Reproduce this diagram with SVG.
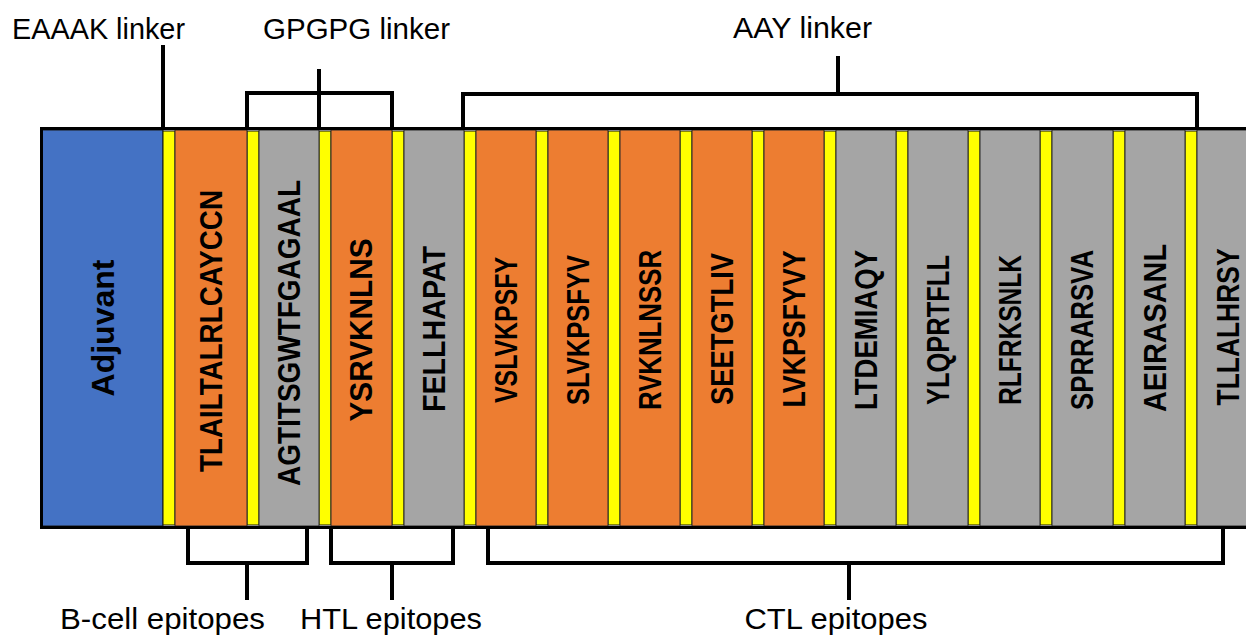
<svg xmlns="http://www.w3.org/2000/svg" width="1246" height="635" viewBox="0 0 1246 635">
<style>
.adj{fill:#4472C4;stroke:#1a1a1a;stroke-width:1}
.htl{fill:#ED7D31;stroke:#2a2a2a;stroke-width:1}
.gry{fill:#A5A5A5;stroke:#2a2a2a;stroke-width:1}
.lnk{fill:#FFFF00;stroke:#111;stroke-width:1}
.seq{font-family:"Liberation Sans",Arial,sans-serif;font-weight:bold;font-size:31px;fill:#000;text-anchor:middle}
.lbl{font-family:"Liberation Sans",Arial,sans-serif;font-size:29px;fill:#000;text-anchor:middle}
.br{fill:none;stroke:#000;stroke-width:4;stroke-linejoin:miter;stroke-linecap:butt}
.frame{fill:none;stroke:#000;stroke-width:3}
</style>
<rect x="0" y="0" width="1246" height="635" fill="#fff"/>

<g id="adjuvant">
<rect class="adj" x="42" y="130" width="121" height="396"/>
<text class="seq" transform="translate(103,328) rotate(-90)" dy="0.36em" textLength="137" lengthAdjust="spacingAndGlyphs">Adjuvant</text>
</g>

<g id="linkers">
<rect class="lnk" x="163" y="131" width="12" height="394"/>
<rect class="lnk" x="247" y="131" width="12" height="394"/>
<rect class="lnk" x="319" y="131" width="12" height="394"/>
<rect class="lnk" x="392" y="131" width="12" height="394"/>
<rect class="lnk" x="464" y="131" width="12" height="394"/>
<rect class="lnk" x="536" y="131" width="12" height="394"/>
<rect class="lnk" x="608" y="131" width="12" height="394"/>
<rect class="lnk" x="680" y="131" width="12" height="394"/>
<rect class="lnk" x="752" y="131" width="12" height="394"/>
<rect class="lnk" x="824" y="131" width="12" height="394"/>
<rect class="lnk" x="896" y="131" width="12" height="394"/>
<rect class="lnk" x="968" y="131" width="12" height="394"/>
<rect class="lnk" x="1040" y="131" width="12" height="394"/>
<rect class="lnk" x="1113" y="131" width="12" height="394"/>
<rect class="lnk" x="1185" y="131" width="12" height="394"/>
</g>

<g id="e1">
<rect class="htl" x="175" y="130" width="72" height="396"/>
<text class="seq" transform="translate(211,331) rotate(-90)" dy="0.36em" textLength="282" lengthAdjust="spacingAndGlyphs">TLAILTALRLCAYCCN</text>
</g>
<g id="e2">
<rect class="gry" x="259" y="130" width="60" height="396"/>
<text class="seq" transform="translate(289,333) rotate(-90)" dy="0.36em" textLength="306" lengthAdjust="spacingAndGlyphs">AGTITSGWTFGAGAAL</text>
</g>
<g id="e3">
<rect class="htl" x="331" y="130" width="61" height="396"/>
<text class="seq" transform="translate(361,330) rotate(-90)" dy="0.36em" textLength="183" lengthAdjust="spacingAndGlyphs">YSRVKNLNS</text>
</g>
<g id="e4">
<rect class="gry" x="404" y="130" width="60" height="396"/>
<text class="seq" transform="translate(434,329) rotate(-90)" dy="0.36em" textLength="166" lengthAdjust="spacingAndGlyphs">FELLHAPAT</text>
</g>
<g id="e5">
<rect class="htl" x="476" y="130" width="60" height="396"/>
<text class="seq" transform="translate(506,330) rotate(-90)" dy="0.36em" textLength="146" lengthAdjust="spacingAndGlyphs">VSLVKPSFY</text>
</g>
<g id="e6">
<rect class="htl" x="548" y="130" width="60" height="396"/>
<text class="seq" transform="translate(578,330) rotate(-90)" dy="0.36em" textLength="150" lengthAdjust="spacingAndGlyphs">SLVKPSFYV</text>
</g>
<g id="e7">
<rect class="htl" x="620" y="130" width="60" height="396"/>
<text class="seq" transform="translate(650,330) rotate(-90)" dy="0.36em" textLength="160" lengthAdjust="spacingAndGlyphs">RVKNLNSSR</text>
</g>
<g id="e8">
<rect class="htl" x="692" y="130" width="60" height="396"/>
<text class="seq" transform="translate(722,329) rotate(-90)" dy="0.36em" textLength="152" lengthAdjust="spacingAndGlyphs">SEETGTLIV</text>
</g>
<g id="e9">
<rect class="htl" x="764" y="130" width="60" height="396"/>
<text class="seq" transform="translate(794,329) rotate(-90)" dy="0.36em" textLength="157" lengthAdjust="spacingAndGlyphs">LVKPSFYVY</text>
</g>
<g id="e10">
<rect class="gry" x="836" y="130" width="60" height="396"/>
<text class="seq" transform="translate(866,330) rotate(-90)" dy="0.36em" textLength="160" lengthAdjust="spacingAndGlyphs">LTDEMIAQY</text>
</g>
<g id="e11">
<rect class="gry" x="908" y="130" width="60" height="396"/>
<text class="seq" transform="translate(938,330) rotate(-90)" dy="0.36em" textLength="150" lengthAdjust="spacingAndGlyphs">YLQPRTFLL</text>
</g>
<g id="e12">
<rect class="gry" x="980" y="130" width="60" height="396"/>
<text class="seq" transform="translate(1010,330) rotate(-90)" dy="0.36em" textLength="150" lengthAdjust="spacingAndGlyphs">RLFRKSNLK</text>
</g>
<g id="e13">
<rect class="gry" x="1052" y="130" width="61" height="396"/>
<text class="seq" transform="translate(1082,330) rotate(-90)" dy="0.36em" textLength="160" lengthAdjust="spacingAndGlyphs">SPRRARSVA</text>
</g>
<g id="e14">
<rect class="gry" x="1125" y="130" width="60" height="396"/>
<text class="seq" transform="translate(1155,328) rotate(-90)" dy="0.36em" textLength="168" lengthAdjust="spacingAndGlyphs">AEIRASANL</text>
</g>
<g id="e15">
<rect class="gry" x="1197" y="130" width="60" height="396"/>
<text class="seq" transform="translate(1228,327) rotate(-90)" dy="0.36em" textLength="157" lengthAdjust="spacingAndGlyphs">TLLALHRSY</text>
</g>

<g id="frame">
<path class="frame" d="M1250,128.5 H41.5 V527.5 H1250"/>
</g>

<g id="connectors">
<path class="br" d="M163,45 V128"/>
<path class="br" d="M247,129 V93 H392 V129"/>
<path class="br" d="M319,69 V129"/>
<path class="br" d="M463,129 V94 H1197 V129"/>
<path class="br" d="M838,56 V94"/>
<path class="br" d="M188,527 V563 H307 V527"/>
<path class="br" d="M247,563 V600"/>
<path class="br" d="M331,527 V563 H453 V527"/>
<path class="br" d="M392,563 V600"/>
<path class="br" d="M488,527 V563 H1223 V527"/>
<path class="br" d="M849,563 V600"/>
</g>

<g id="labels">
<text class="lbl" x="98.5" y="39" textLength="173" lengthAdjust="spacingAndGlyphs">EAAAK linker</text>
<text class="lbl" x="356.5" y="39" textLength="187" lengthAdjust="spacingAndGlyphs">GPGPG linker</text>
<text class="lbl" x="802.5" y="38" textLength="139" lengthAdjust="spacingAndGlyphs">AAY linker</text>
<text class="lbl" x="162.5" y="629" textLength="205" lengthAdjust="spacingAndGlyphs">B-cell epitopes</text>
<text class="lbl" x="391" y="629" textLength="182" lengthAdjust="spacingAndGlyphs">HTL epitopes</text>
<text class="lbl" x="836" y="629" textLength="183" lengthAdjust="spacingAndGlyphs">CTL epitopes</text>
</g>
</svg>
